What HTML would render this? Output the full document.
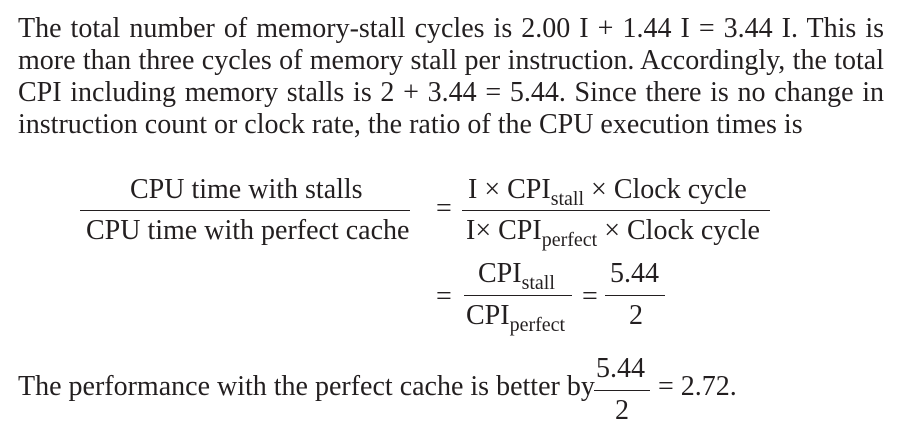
<!DOCTYPE html>
<html><head><meta charset="utf-8"><style>
body{margin:0;background:#fff;}
#page{position:relative;width:912px;height:438px;overflow:hidden;font-family:"Liberation Serif",serif;font-size:28px;color:#231f20;}
.ln{position:absolute;left:18px;width:866px;line-height:32px;white-space:nowrap;}
.j{text-align:justify;text-align-last:justify;}
.t{position:absolute;white-space:nowrap;line-height:30px;}
.bar{position:absolute;height:1.3px;background:#231f20;}
sub{font-size:20px;vertical-align:-7px;line-height:0;}
</style></head><body>
<div id="page">
<div class="ln j" style="top:13px">The total number of memory-stall cycles is 2.00 I + 1.44 I = 3.44 I. This is</div>
<div class="ln j" style="top:45px">more than three cycles of memory stall per instruction. Accordingly, the total</div>
<div class="ln j" style="top:77px">CPI including memory stalls is 2 + 3.44 = 5.44. Since there is no change in</div>
<div class="ln" style="top:109px">instruction count or clock rate, the ratio of the CPU execution times is</div>

<div class="t" style="left:130px;top:175px">CPU time with stalls</div>
<div class="bar" style="left:80px;top:210px;width:330px"></div>
<div class="t" style="left:86px;top:216px">CPU time with perfect cache</div>
<div class="t" style="left:436px;top:194px">=</div>
<div class="t" style="left:468px;top:175px">I × CPI<sub>stall</sub> × Clock cycle</div>
<div class="bar" style="left:462px;top:210px;width:308px"></div>
<div class="t" style="left:466px;top:216px">I× CPI<sub>perfect</sub> × Clock cycle</div>

<div class="t" style="left:436px;top:282px">=</div>
<div class="t" style="left:478px;top:259px">CPI<sub>stall</sub></div>
<div class="bar" style="left:464px;top:295px;width:108px"></div>
<div class="t" style="left:466px;top:301px">CPI<sub>perfect</sub></div>
<div class="t" style="left:582px;top:282px">=</div>
<div class="t" style="left:610px;top:259px">5.44</div>
<div class="bar" style="left:605px;top:295px;width:60px"></div>
<div class="t" style="left:629px;top:301px">2</div>

<div class="t" style="left:18px;top:372px">The performance with the perfect cache is better by</div>
<div class="t" style="left:596px;top:354px">5.44</div>
<div class="bar" style="left:594px;top:390px;width:56px"></div>
<div class="t" style="left:615px;top:396px">2</div>
<div class="t" style="left:658px;top:372px">= 2.72.</div>
</div>
</body></html>
